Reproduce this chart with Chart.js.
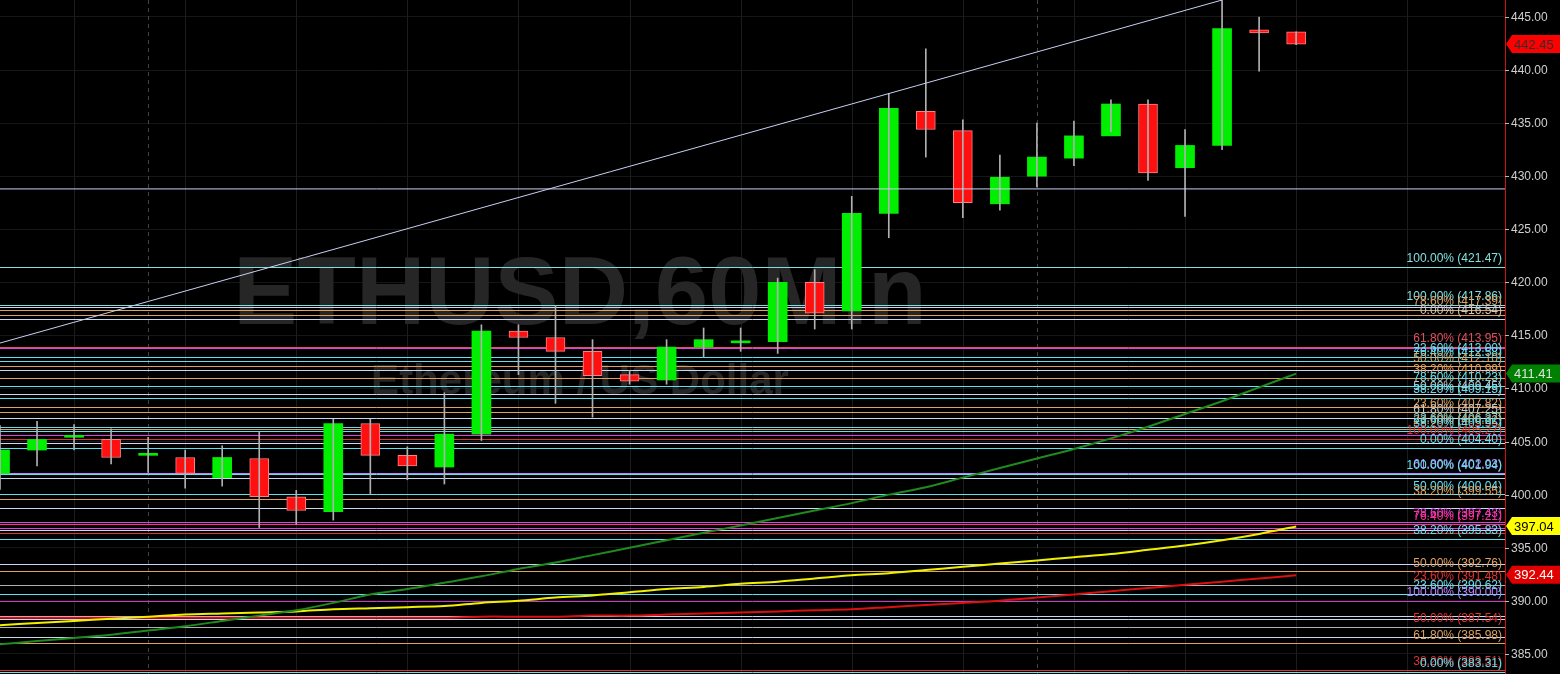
<!DOCTYPE html>
<html>
<head>
<meta charset="utf-8">
<script src="https://cdn.jsdelivr.net/npm/chart.js@4"></script>
<style>
  html, body { margin: 0; padding: 0; background: #000; }
  #wrap { width: 1560px; height: 674px; }
</style>
</head>
<body>
<div id="wrap"><canvas id="chart"></canvas></div>
<script>
// Candles, hourly bars (index = bar number)
const opens  = [402.0, 404.2, 405.4, 405.2, 403.7, 403.5, 401.6, 403.4, 399.8, 398.4, 406.7, 403.7, 402.6, 405.7, 415.4, 414.8, 413.5, 411.3, 410.8, 413.9, 414.3, 414.4, 420.0, 417.3, 426.5, 436.1, 434.3, 427.4, 430.0, 431.7, 433.8, 436.8, 430.8, 432.9, 443.8, 443.6];
const closes = [404.2, 405.2, 405.4, 403.5, 403.7, 402.0, 403.5, 399.8, 398.5, 406.7, 403.7, 402.7, 405.7, 415.4, 414.8, 413.5, 411.2, 410.7, 413.9, 414.6, 414.3, 420.0, 417.1, 426.5, 436.4, 434.4, 427.5, 429.9, 431.8, 433.8, 436.8, 430.3, 432.9, 443.9, 443.5, 442.45];
const highs  = [406.5, 406.9, 406.6, 406.2, 405.4, 404.2, 404.6, 405.9, 400.4, 407.1, 407.1, 404.5, 409.6, 416.0, 416.0, 417.8, 414.6, 411.7, 414.6, 415.7, 415.7, 420.4, 421.2, 428.1, 437.8, 442.0, 435.3, 432.0, 435.0, 435.2, 437.2, 437.2, 434.4, 446.6, 445.0, 443.6];
const lows   = [400.5, 402.7, 404.2, 402.9, 402.1, 400.6, 400.8, 396.9, 397.2, 397.6, 400.1, 401.4, 401.0, 405.1, 411.3, 408.6, 407.3, 410.4, 410.4, 412.9, 413.5, 413.3, 415.6, 415.6, 424.2, 431.8, 426.1, 426.8, 429.0, 431.0, 434.2, 429.6, 426.2, 432.5, 439.9, 442.4];

// Moving averages per bar
const maGreen  = [385.9, 386.2, 386.5, 386.8, 387.2, 387.6, 388.1, 388.6, 389.1, 389.8, 390.6, 391.1, 391.7, 392.3, 393.0, 393.6, 394.3, 395.0, 395.7, 396.4, 397.1, 397.8, 398.5, 399.2, 400.0, 400.7, 401.6, 402.5, 403.4, 404.3, 405.3, 406.4, 407.6, 408.8, 410.1, 411.4];
const maYellow = [387.7, 387.9, 388.1, 388.3, 388.5, 388.7, 388.8, 388.9, 389.0, 389.2, 389.3, 389.4, 389.5, 389.8, 390.0, 390.3, 390.5, 390.8, 391.1, 391.3, 391.6, 391.8, 392.1, 392.4, 392.6, 392.9, 393.2, 393.5, 393.8, 394.1, 394.4, 394.8, 395.2, 395.7, 396.3, 397.0];
const maRed    = [388.4, 388.4, 388.4, 388.4, 388.4, 388.4, 388.4, 388.4, 388.4, 388.4, 388.4, 388.4, 388.4, 388.5, 388.5, 388.5, 388.6, 388.6, 388.7, 388.8, 388.9, 389.0, 389.1, 389.2, 389.4, 389.6, 389.8, 390.0, 390.3, 390.6, 390.9, 391.2, 391.5, 391.8, 392.1, 392.4];

// Trend line endpoints [bar, price]
const trendLine = [[-1, 413.3], [33, 446.6]];
const hLine = 428.8;

// Fibonacci levels
const fibPrices = [421.47, 417.86, 417.7, 417.39, 416.95, 416.54, 413.95, 413.85, 413.0, 412.58, 412.10, 411.7, 410.99, 410.23, 409.45, 409.15, 408.3, 407.82, 407.25, 406.37, 406.22, 405.95, 405.6, 405.27, 404.9, 404.4, 402.03, 401.94, 401.6, 400.04, 399.55, 398.7, 397.43, 397.21, 396.9, 396.7, 396.4, 395.83, 393.5, 392.76, 391.48, 390.62, 390.0, 388.6, 388.3, 387.54, 386.6, 385.98, 383.51, 383.31];
const fibColors = ['#7fe0e0', '#7fe0e0', '#c8d8f0', '#e0a060', '#e0a060', '#c8d8f0', '#e05060', '#e040e0', '#60e0f0', '#60e0f0', '#e0a060', '#c8d8f0', '#e0a060', '#60e0f0', '#c8d8f0', '#60e0f0', '#e0a060', '#e0a060', '#c8d8f0', '#60e0f0', '#e0a060', '#60e0f0', '#e040e0', '#e03030', '#c8d8f0', '#60e0f0', '#c080ff', '#60e0f0', '#c8d8f0', '#60e0f0', '#e0a060', '#c8d8f0', '#e040e0', '#ff3090', '#e040e0', '#c8d8f0', '#e03030', '#60e0f0', '#c8d8f0', '#e0a060', '#b0b0b0', '#60e0f0', '#c040c0', '#c8d8f0', '#c8d8f0', '#b0b0b0', '#c8d8f0', '#e0a060', '#e03030', '#60e0f0'];
const fibLabels = ['100.00% (421.47)', '100.00% (417.86)', '', '78.60% (417.39)', '', '0.00% (416.54)', '61.80% (413.95)', '', '23.60% (413.00)', '76.40% (412.58)', '50.00% (412.10)', '', '38.20% (410.99)', '78.60% (410.23)', '50.00% (409.45)', '38.20% (409.15)', '', '23.60% (407.82)', '61.80% (407.25)', '23.60% (406.37)', '23.60% (406.22)', '38.20% (405.95)', '', '100.00% (405.27)', '', '0.00% (404.40)', '61.80% (402.03)', '100.00% (401.94)', '', '50.00% (400.04)', '38.20% (399.55)', '', '78.60% (397.43)', '76.40% (397.21)', '', '', '', '38.20% (395.83)', '', '50.00% (392.76)', '23.60% (391.48)', '23.60% (390.62)', '100.00% (390.00)', '', '', '50.00% (387.54)', '', '61.80% (385.98)', '38.20% (383.51)', '0.00% (383.31)'];
const fibLabelColors = { '#c8d8f0': '#c8c8c8', '#b0b0b0': '#e03030', '#c040c0': '#c080ff' };

// Price badges on the axis
const badgeValues = [442.45, 411.41, 397.04, 392.44];
const badgeColors = ['#ff0000', '#008000', '#ffff00', '#e00000'];
const badgeText = ['#303030', '#e0e0e0', '#000000', '#ffffff'];

const yTicks = [385, 390, 395, 400, 405, 410, 415, 420, 425, 430, 435, 440, 445];

const idx = opens.map((_, i) => i);
const UP = '#00ee00', DOWN = '#ff1010';
const candleColor = idx.map(i => closes[i] >= opens[i] ? UP : DOWN);

const bgPlugin = {
  id: 'bg',
  beforeDraw(chart) {
    const c = chart.ctx;
    c.save();
    c.fillStyle = '#000';
    c.fillRect(0, 0, chart.width, chart.height);
    c.restore();
  },
  beforeDatasetsDraw(chart) {
    const c = chart.ctx, a = chart.chartArea, ys = chart.scales.y, xs = chart.scales.x;
    c.save();
    // faint grid
    c.strokeStyle = '#1c1c1c';
    c.lineWidth = 1;
    for (let b = 2; b < 41; b += 3) {
      const x = Math.round(xs.getPixelForValue(b)) + 0.5;
      c.beginPath(); c.moveTo(x, a.top); c.lineTo(x, a.bottom); c.stroke();
    }
    c.setLineDash([4, 4]);
    c.strokeStyle = '#444';
    [4, 28].forEach(b => {
      const x = Math.round(xs.getPixelForValue(b)) + 0.5;
      c.beginPath(); c.moveTo(x, a.top); c.lineTo(x, a.bottom); c.stroke();
    });
    c.setLineDash([]);
    // watermark
    c.fillStyle = '#262626';
    c.textAlign = 'center';
    c.textBaseline = 'middle';
    c.font = 'bold 96px "Liberation Sans", Arial, sans-serif';
    c.fillText('ETHUSD,60Min', 580, 298);
    c.font = 'bold 42px "Liberation Sans", Arial, sans-serif';
    c.fillText('Ethereum / US Dollar', 580, 382);
    // fib lines
    fibPrices.forEach((p, i) => {
      const y = Math.round(ys.getPixelForValue(p)) + 0.5;
      c.strokeStyle = fibColors[i];
      c.lineWidth = 1;
      c.beginPath(); c.moveTo(a.left, y); c.lineTo(a.right, y); c.stroke();
    });
    c.textAlign = 'right';
    c.textBaseline = 'bottom';
    c.font = '12px "Liberation Sans", Arial, sans-serif';
    fibPrices.forEach((p, i) => {
      if (!fibLabels[i]) return;
      const y = ys.getPixelForValue(p);
      c.fillStyle = fibLabelColors[fibColors[i]] || fibColors[i];
      c.fillText(fibLabels[i], a.right - 3, y - 2);
    });
    c.restore();
  },
  afterDraw(chart) {
    const c = chart.ctx, a = chart.chartArea, ys = chart.scales.y;
    c.save();
    // axis line, ticks and labels
    c.strokeStyle = '#d01010';
    c.beginPath(); c.moveTo(a.right + 0.5, 0); c.lineTo(a.right + 0.5, chart.height); c.stroke();
    c.font = '12px "Liberation Sans", Arial, sans-serif';
    c.textBaseline = 'middle';
    c.textAlign = 'left';
    yTicks.forEach(v => {
      const y = Math.round(ys.getPixelForValue(v)) + 0.5;
      c.strokeStyle = '#bbbbbb';
      c.beginPath(); c.moveTo(a.right, y); c.lineTo(a.right + 4, y); c.stroke();
      c.fillStyle = '#cfcfcf';
      c.fillText(v.toFixed(2), a.right + 6, y);
    });
    c.font = '13px "Liberation Sans", Arial, sans-serif';
    badgeValues.forEach((v, i) => {
      const y = ys.getPixelForValue(v);
      const x0 = a.right + 1;
      c.fillStyle = badgeColors[i];
      c.beginPath();
      c.moveTo(x0, y);
      c.lineTo(x0 + 6, y - 9);
      c.lineTo(chart.width, y - 9);
      c.lineTo(chart.width, y + 9);
      c.lineTo(x0 + 6, y + 9);
      c.closePath();
      c.fill();
      c.fillStyle = badgeText[i];
      c.fillText(v.toFixed(2), x0 + 8, y + 1);
    });
    c.restore();
  }
};

new Chart(document.getElementById('chart'), {
  data: {
    datasets: [
      {
        type: 'line',
        data: trendLine.map(p => ({ x: p[0], y: p[1] })),
        borderColor: '#c8d0f0', borderWidth: 1, pointRadius: 0
      },
      {
        type: 'line',
        data: [{ x: 0, y: hLine }, { x: 41, y: hLine }],
        borderColor: '#c8d0f0', borderWidth: 1, pointRadius: 0
      },
      {
        type: 'line',
        data: idx.map(i => ({ x: i, y: maGreen[i] })),
        borderColor: '#1f8a1f', borderWidth: 2, pointRadius: 0, tension: 0.3
      },
      {
        type: 'line',
        data: idx.map(i => ({ x: i, y: maYellow[i] })),
        borderColor: '#f0f000', borderWidth: 2, pointRadius: 0, tension: 0.3
      },
      {
        type: 'line',
        data: idx.map(i => ({ x: i, y: maRed[i] })),
        borderColor: '#dd1010', borderWidth: 2, pointRadius: 0, tension: 0.3
      },
      {
        type: 'bar',
        data: idx.map(i => ({ x: i, y: [lows[i], highs[i]] })),
        backgroundColor: '#b0b0b0',
        barThickness: 1, grouped: false
      },
      {
        type: 'bar',
        data: idx.map(i => ({ x: i, y: [opens[i], closes[i]] })),
        backgroundColor: candleColor,
        borderColor: idx.map(i => closes[i] >= opens[i] ? UP : '#ff8080'),
        borderWidth: idx.map(i => closes[i] >= opens[i] ? 0 : 1),
        borderSkipped: false,
        barThickness: 19, minBarLength: 2, grouped: false
      }
    ]
  },
  options: {
    responsive: true,
    maintainAspectRatio: false,
    animation: false,
    layout: { padding: 0 },
    plugins: { legend: { display: false }, tooltip: { enabled: false } },
    scales: {
      x: {
        type: 'linear', min: 0, max: 40.64, display: false, offset: false
      },
      y: {
        position: 'right', min: 383.1, max: 446.6,
        afterBuildTicks: s => { s.ticks = yTicks.map(v => ({ value: v })); },
        afterFit: s => { s.width = 55; },
        grid: { color: '#161616', drawTicks: false, drawOnChartArea: true },
        border: { display: false },
        ticks: { display: false }
      }
    }
  },
  plugins: [bgPlugin]
});
</script>
</body>
</html>
